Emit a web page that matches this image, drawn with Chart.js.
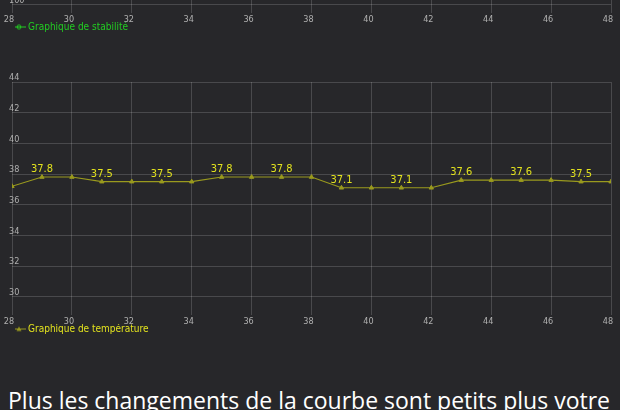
<!DOCTYPE html>
<html><head><meta charset="utf-8">
<script src="https://cdn.jsdelivr.net/npm/chart.js@4"></script>
<style>
html,body{margin:0;padding:0;background:#27272a;width:620px;height:410px;overflow:hidden;}
body{position:relative;}
#stabWrap{position:absolute;left:0;top:-173px;width:620px;height:206px;}
#tempWrap{position:absolute;left:0;top:70px;width:620px;height:266px;}
#note{position:absolute;left:8px;top:389px;font-family:'Open Sans';font-size:23px;color:#ffffff;white-space:nowrap;line-height:23px;}
</style></head><body>
<div id="stabWrap"><canvas id="stab"></canvas></div>
<div id="tempWrap"><canvas id="temp"></canvas></div>
<div id="note">Plus les changements de la courbe sont petits plus votre</div>
<script>
// ---- data ----
const days = [28,29,30,31,32,33,34,35,36,37,38,39,40,41,42,43,44,45,46,47,48];
const temperatures = [37.2,37.8,37.8,37.5,37.5,37.5,37.5,37.8,37.8,37.8,37.8,37.1,37.1,37.1,37.1,37.6,37.6,37.6,37.6,37.5,37.5];
const stability = [];
const xTicks = [28,30,32,34,36,38,40,42,44,46,48];
const tempTicks = [30,32,34,36,38,40,42,44];
const stabTicks = [100,110,120,130];
const stabLabel = 'Graphique de stabilité';
const tempLabel = 'Graphique de température';

const GRID = 'rgba(255,255,255,0.16)';
const TICK = '#b0b0b0';
const TEMP_LINE = '#9a9a1e';
const TEMP_TEXT = '#e2e21e';
const STAB_COLOR = '#22cc22';
const FONT = "'DejaVu Sans Condensed','DejaVu Sans',sans-serif";

function legendIcon(color, style){
  const c = document.createElement('canvas');
  c.width = 14; c.height = 7;
  const g = c.getContext('2d');
  g.strokeStyle = color; g.fillStyle = color; g.lineWidth = 1;
  g.beginPath(); g.moveTo(0,3.5); g.lineTo(14,3.5); g.stroke();
  if (style === 'triangle'){
    g.beginPath(); g.moveTo(7,1); g.lineTo(9.5,5.5); g.lineTo(4.5,5.5); g.closePath(); g.fill();
  } else {
    g.beginPath(); g.arc(7,3.5,2,0,Math.PI*2); g.stroke();
  }
  return c;
}

const valueLabels = {
  id: 'valueLabels',
  afterDatasetsDraw(chart){
    const meta = chart.getDatasetMeta(0);
    const ctx = chart.ctx;
    ctx.save();
    ctx.fillStyle = TEMP_TEXT;
    ctx.font = "11px " + FONT;
    ctx.textAlign = 'center';
    ctx.textBaseline = 'bottom';
    meta.data.forEach((pt, i) => {
      if (i % 2 === 1) ctx.fillText(temperatures[i].toFixed(1), pt.x, pt.y - 2);
    });
    ctx.restore();
  }
};

const legendShift = {
  id: 'legendShift',
  afterLayout(chart){
    const l = chart.legend;
    if (!l) return;
    l.left += 3; l.right += 3;
    l.top -= 1; l.bottom -= 1;
  }
};

function xScale(){
  return {
    type: 'linear', min: 28, max: 48,
    afterBuildTicks: s => { s.ticks = xTicks.map(v => ({value: v})); },
    afterFit: s => { s.height = 13; },
    grid: { color: GRID, tickLength: 3, drawTicks: true, tickColor: GRID },
    border: { display: false },
    ticks: { color: TICK, font: { family: FONT, size: 9, lineHeight: 1 }, padding: 2, labelOffset: -3, maxRotation: 0, autoSkip: false }
  };
}
function yScale(min, max, list){
  return {
    type: 'linear', min: min, max: max,
    afterBuildTicks: s => { s.ticks = list.map(v => ({value: v})); },
    afterFit: s => { s.width = 0; },
    grid: { color: GRID, drawTicks: false },
    border: { display: false },
    ticks: { mirror: true, color: TICK, font: { family: FONT, size: 9 }, padding: -3, labelOffset: -4 }
  };
}
function legendOpts(){
  return {
    position: 'bottom', align: 'start', maxHeight: 10,
    labels: {
      usePointStyle: true, pointStyleWidth: 8, padding: 0,
      font: { family: FONT, size: 10, lineHeight: 1 },
      generateLabels: chart => chart.data.datasets.map((d, i) => ({
        text: d.label, fontColor: d.legendColor, pointStyle: d.legendIcon,
        datasetIndex: i, lineWidth: 0, strokeStyle: 'transparent', fillStyle: 'transparent'
      }))
    }
  };
}

new Chart(document.getElementById('stab'), {
  type: 'line',
  data: { datasets: [{
    label: stabLabel, data: stability.map((v, i) => ({x: days[i], y: v})),
    borderColor: STAB_COLOR, backgroundColor: STAB_COLOR, borderWidth: 1,
    pointStyle: 'circle', pointRadius: 2,
    legendColor: STAB_COLOR, legendIcon: legendIcon(STAB_COLOR, 'circle')
  }]},
  options: {
    responsive: true, maintainAspectRatio: false, animation: false,
    layout: { padding: { left: 12, right: 9, top: 10, bottom: 0 } },
    scales: { x: xScale(), y: yScale(99, 130, stabTicks) },
    plugins: { legend: legendOpts(), tooltip: { enabled: false } }
  },
  plugins: [legendShift]
});

new Chart(document.getElementById('temp'), {
  type: 'line',
  data: { datasets: [{
    label: tempLabel, data: temperatures.map((v, i) => ({x: days[i], y: v})),
    borderColor: TEMP_LINE, backgroundColor: TEMP_LINE, borderWidth: 1.1,
    pointStyle: 'triangle', pointRadius: 2.5, pointBorderWidth: 1,
    tension: 0,
    legendColor: TEMP_TEXT, legendIcon: legendIcon(TEMP_LINE, 'triangle')
  }]},
  options: {
    responsive: true, maintainAspectRatio: false, animation: false,
    layout: { padding: { left: 12, right: 9, top: 12, bottom: 1 } },
    scales: { x: xScale(), y: yScale(29, 44, tempTicks) },
    plugins: { legend: legendOpts(), tooltip: { enabled: false } }
  },
  plugins: [valueLabels, legendShift]
});
</script>
</body></html>
